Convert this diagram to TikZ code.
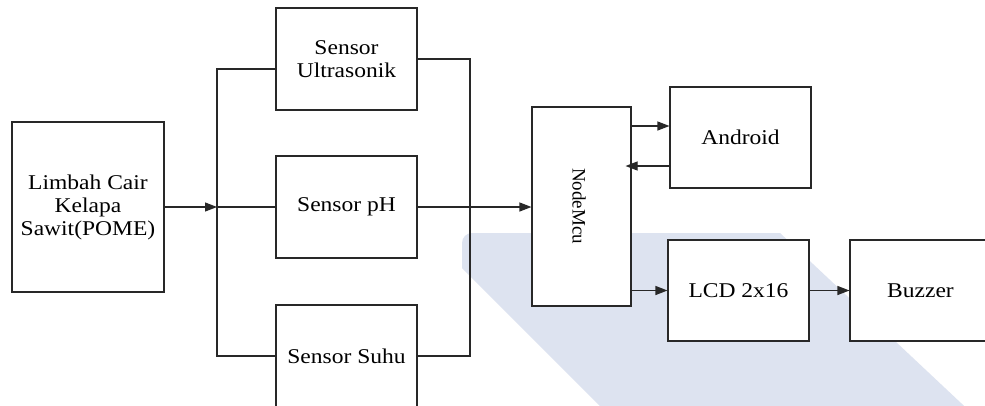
\documentclass[tikz,border=0pt]{standalone}
\usepackage{fontspec}
\setmainfont{Liberation Serif}[FakeStretch=1.12]
\newfontfamily\plainserif{Liberation Serif}
\usetikzlibrary{arrows.meta}
\definecolor{wm}{RGB}{221,227,240}
\definecolor{ln}{RGB}{40,40,40}
\begin{document}
\begin{tikzpicture}[x=1pt,y=-1pt,
  blk/.style={draw=ln,line width=1.1pt,fill=white,inner sep=0pt,align=center,
    font=\fontsize{21}{23}\selectfont,text=black},
  wire/.style={draw=ln,line width=1.1pt},
  arr/.style={wire,-{Triangle[length=12pt,width=9pt]}}]
\useasboundingbox (0,0) rectangle (985,405);
\clip (0,0) rectangle (985,405);
\fill[white] (0,0) rectangle (985,405);
% watermark
\fill[wm] (462,268) [rounded corners=10pt] -- (462,233) [sharp corners] -- (780,233) -- (1011,450) -- (644,450) -- cycle;
% nodes
\node[blk,minimum width=152pt,minimum height=170pt] (lim) at (88,207) {Limbah Cair\\Kelapa\\Sawit(POME)};
\node[blk,minimum width=141pt,minimum height=102pt] (us) at (346.5,59) {Sensor\\Ultrasonik};
\node[blk,minimum width=141pt,minimum height=102pt] (ph) at (346.5,207) {Sensor pH};
\node[blk,minimum width=141pt,minimum height=102pt] (su) at (346.5,356) {Sensor Suhu};
\node[blk,minimum width=99pt,minimum height=199pt] (nm) at (581.5,206.5) {};
\node[rotate=-90,font=\plainserif\fontsize{19}{21}\selectfont] (nmt) at (579,206) {NodeMcu};
\node[blk,minimum width=141pt,minimum height=101pt] (and) at (740.5,137.5) {Android};
\node[blk,minimum width=141pt,minimum height=101pt] (lcd) at (738.5,290.5) {LCD 2x16};
\node[blk,minimum width=141pt,minimum height=101pt] (buz) at (920.5,290.5) {Buzzer};
% junctions
\coordinate (jl) at (217,207);
\coordinate (jr) at (470,207);
% connectors
\draw[arr] (lim.east) -- (jl);
\draw[wire] (jl) -- (ph.west);
\draw[wire] (us.west |- 0,69) -- (217,69) -- (217,356) -- (su.west);
\draw[wire] (us.east |- 0,59) -- (470,59) -- (470,356) -- (su.east);
\draw[arr] (ph.east) -- (nm.west |- ph.east);
\draw[arr] (nm.east |- 0,126) -- (and.west |- 0,126);
\draw[arr,shorten >=-6pt] (and.west |- 0,166) -- (nm.east |- 0,166);
\draw[arr] (nm.east |- lcd.west) -- (lcd.west);
\draw[arr] (lcd.east) -- (buz.west);
\end{tikzpicture}
\end{document}
